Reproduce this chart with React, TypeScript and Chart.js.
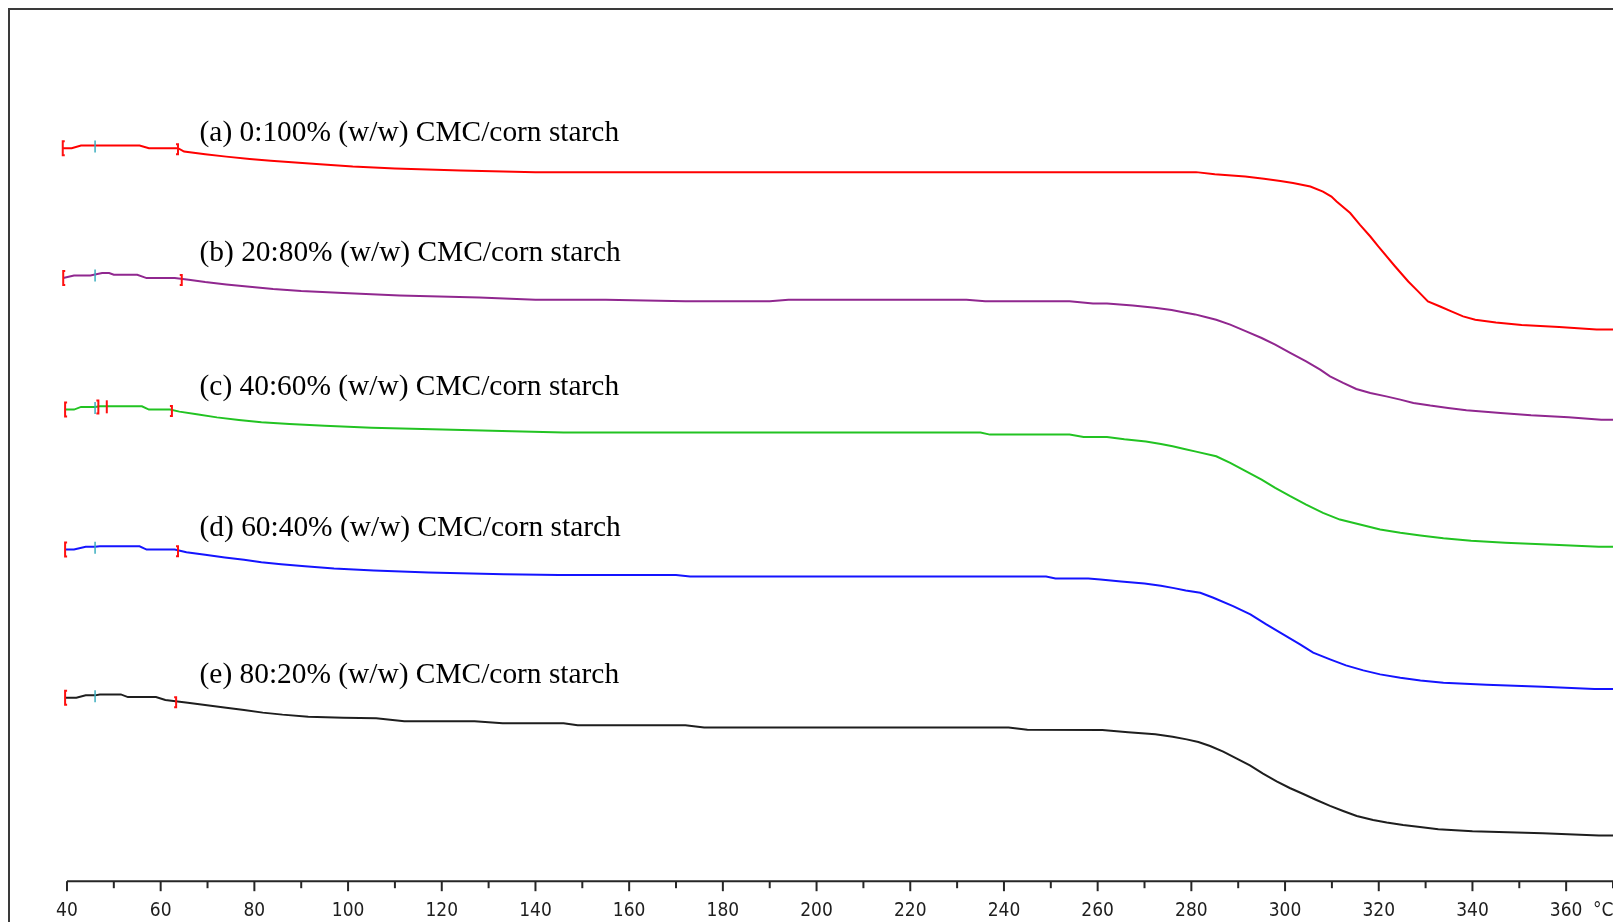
import { useEffect, useRef } from 'react';
import { Chart, registerables } from 'chart.js';

Chart.register(...registerables);

// TGA traces of CMC/corn starch films, stacked with a vertical offset (relative signal units).
const TEMP_A = [39.1, 41, 43, 55.5, 57.5, 63.7, 65, 69.5, 74, 79, 83.5, 88, 94, 101, 110, 124, 140, 200, 281, 285, 291.5, 295.5, 299, 301.7, 305.4, 308.1, 309.9, 311, 313.9, 316, 318.2, 319.9, 323.5, 326.3, 328.4, 330.5, 333.1, 335.5, 338, 340.6, 345, 350.5, 358.5, 366.5, 370];
const SIG_A = [84.14, 84.14, 84.44, 84.44, 84.14, 84.14, 83.75, 83.45, 83.17, 82.91, 82.71, 82.53, 82.3, 82.03, 81.8, 81.57, 81.39, 81.39, 81.39, 81.16, 80.88, 80.62, 80.36, 80.13, 79.74, 79.16, 78.59, 78.02, 76.69, 75.34, 74.0, 72.86, 70.56, 68.84, 67.7, 66.55, 65.97, 65.4, 64.83, 64.45, 64.14, 63.84, 63.61, 63.34, 63.34];

const TEMP_B = [39.2, 41.5, 45, 47.5, 49, 50, 55, 57, 63, 66, 69.5, 74, 79, 84, 90, 99, 111, 128, 140, 155, 172, 190, 194, 232, 236, 254, 259, 262, 267.5, 272.2, 275.8, 278.5, 280.8, 283, 285.3, 288.3, 291.7, 295, 297.9, 301.1, 304.5, 307.5, 309.6, 312.4, 315.2, 318.2, 321.6, 324.6, 327.4, 331, 334.8, 338.7, 346, 352.5, 360.5, 367.5, 370];
const SIG_B = [69.23, 69.53, 69.53, 69.81, 69.81, 69.61, 69.61, 69.23, 69.23, 69.04, 68.77, 68.5, 68.23, 67.97, 67.74, 67.51, 67.24, 67.01, 66.74, 66.74, 66.58, 66.58, 66.74, 66.74, 66.58, 66.58, 66.32, 66.32, 66.09, 65.83, 65.56, 65.29, 65.06, 64.76, 64.45, 63.88, 63.11, 62.35, 61.58, 60.63, 59.67, 58.72, 57.95, 57.19, 56.5, 56.04, 55.65, 55.28, 54.9, 54.59, 54.32, 54.05, 53.75, 53.47, 53.24, 52.98, 52.98];

const TEMP_C = [39.6, 41.5, 43, 46, 47, 56, 57.5, 62, 64, 67.7, 72, 76.7, 81.5, 87.5, 95, 105, 118, 135, 146, 235, 237, 254, 257, 262, 265.7, 270.3, 273.5, 276, 278.5, 281, 285.3, 288.3, 291.7, 295, 297.9, 301.1, 304.5, 308.1, 311.7, 316, 320.3, 324.6, 328.9, 333.8, 339.7, 347, 357.3, 367, 370];
const SIG_C = [54.13, 54.13, 54.44, 54.44, 54.51, 54.51, 54.13, 54.13, 53.9, 53.59, 53.24, 52.95, 52.67, 52.49, 52.29, 52.06, 51.87, 51.64, 51.49, 51.49, 51.26, 51.26, 51.0, 51.0, 50.72, 50.46, 50.19, 49.92, 49.62, 49.31, 48.77, 48.02, 47.05, 46.1, 45.15, 44.19, 43.23, 42.28, 41.51, 40.94, 40.37, 39.99, 39.68, 39.37, 39.07, 38.84, 38.61, 38.38, 38.38];

const TEMP_D = [39.6, 41.5, 44, 46, 47, 55.5, 57, 63, 65.5, 69.5, 73.7, 77.8, 81.5, 85.7, 90.8, 97, 105.5, 117.2, 133.2, 145, 170, 173, 249, 251, 258, 260.6, 265, 270, 273.5, 276.3, 278.8, 281.9, 284.7, 288.9, 292.6, 296, 299.6, 303.2, 306, 309.6, 313, 316.7, 320.3, 324.6, 328.9, 333.8, 343, 355, 366, 370];
const SIG_D = [38.07, 38.07, 38.38, 38.38, 38.45, 38.45, 38.07, 38.07, 37.76, 37.47, 37.16, 36.89, 36.62, 36.39, 36.16, 35.89, 35.67, 35.44, 35.24, 35.15, 35.15, 34.97, 34.97, 34.75, 34.75, 34.63, 34.4, 34.17, 33.91, 33.64, 33.37, 33.11, 32.53, 31.57, 30.62, 29.47, 28.33, 27.18, 26.23, 25.46, 24.77, 24.2, 23.74, 23.36, 23.05, 22.79, 22.56, 22.33, 22.05, 22.05];

const TEMP_E = [39.6, 42, 44, 46, 47, 51.5, 53, 59, 61, 65.8, 70.3, 74, 77.8, 81.8, 86, 91.5, 99, 106, 112, 127, 133, 146, 149, 172, 176, 241, 245, 261, 266.5, 272.3, 276, 279, 281.5, 284, 286.8, 289.6, 292.5, 295.3, 298.2, 301, 303.9, 306.7, 309.6, 312.4, 315.3, 318.8, 321.7, 325.2, 328.8, 332.7, 340, 355, 367, 370];
const SIG_E = [21.07, 21.07, 21.33, 21.33, 21.44, 21.44, 21.13, 21.13, 20.79, 20.49, 20.18, 19.92, 19.64, 19.35, 19.12, 18.89, 18.77, 18.69, 18.35, 18.35, 18.12, 18.12, 17.89, 17.89, 17.63, 17.63, 17.39, 17.35, 17.09, 16.86, 16.59, 16.28, 15.97, 15.52, 14.87, 14.11, 13.3, 12.35, 11.47, 10.7, 10.01, 9.32, 8.64, 8.06, 7.49, 7.03, 6.73, 6.46, 6.23, 5.96, 5.73, 5.5, 5.24, 5.24];

const SERIES_TEMPS = [TEMP_A, TEMP_B, TEMP_C, TEMP_D, TEMP_E];
const SERIES_SIGNALS = [SIG_A, SIG_B, SIG_C, SIG_D, SIG_E];
const SERIES_LABELS = [
  '(a) 0:100% (w/w) CMC/corn starch',
  '(b) 20:80% (w/w) CMC/corn starch',
  '(c) 40:60% (w/w) CMC/corn starch',
  '(d) 60:40% (w/w) CMC/corn starch',
  '(e) 80:20% (w/w) CMC/corn starch',
];
const SERIES_COLORS = ['#ff0000', '#90278f', '#22c322', '#1414ff', '#1e1e1e'];

// Where each caption sits (temperature, signal of its baseline).
const CAPTION_TEMP = 68.3;
const CAPTION_SIGNAL = [85.0, 71.14, 55.85, 39.6, 22.79];

// Evaluation markers along each trace.
const MARK_CENTER = [46, 46, 46, 46, 46];
const MARK_END = [63.7, 64.5, 62.4, 63.7, 63.3];
const MARK_EXTRA_C = [46.7, 48.5];

// Temperature axis
const X_MIN = 38;
const X_MAX = 370;
const AXIS_START = 40;
const UNIT_TEMP = 367.9;

const TICK_FONT = '"Liberation Sans Narrow", "DejaVu Sans Condensed", "Arial Narrow", sans-serif';
const CAPTION_FONT = '29.4px "Liberation Serif", "Times New Roman", serif';

function signalAt(temps: number[], vals: number[], t: number): number {
  for (let i = 1; i < temps.length; i++) {
    if (t <= temps[i]) {
      const f = (t - temps[i - 1]) / (temps[i] - temps[i - 1]);
      return vals[i - 1] + f * (vals[i] - vals[i - 1]);
    }
  }
  return vals[vals.length - 1];
}

const overlayPlugin = {
  id: 'tgaOverlay',
  afterDatasetsDraw(chart: any) {
    const { ctx, chartArea, scales } = chart;
    const xs = scales.x;
    const ys = scales.y;
    ctx.save();

    // temperature axis line and ticks
    const yb = chartArea.bottom;
    ctx.strokeStyle = '#262626';
    ctx.lineWidth = 2;
    ctx.beginPath();
    ctx.moveTo(xs.getPixelForValue(AXIS_START), yb);
    ctx.lineTo(chart.width, yb);
    ctx.stroke();
    xs.ticks.forEach((t: any) => {
      if (t.value < AXIS_START || t.value % 10 !== 0) return;
      const px = xs.getPixelForValue(t.value);
      const len = t.value % 20 === 0 ? 10 : 7;
      ctx.beginPath();
      ctx.moveTo(px, yb);
      ctx.lineTo(px, yb + len);
      ctx.stroke();
    });

    // markers on each trace
    const drawBracket = (px: number, py: number, dir: number, up: number, down: number, color: string) => {
      ctx.strokeStyle = color;
      ctx.lineWidth = 2;
      ctx.beginPath();
      ctx.moveTo(px + dir * 2, py - up);
      ctx.lineTo(px, py - up);
      ctx.lineTo(px, py + down);
      ctx.lineTo(px + dir * 2, py + down);
      ctx.stroke();
    };
    SERIES_TEMPS.forEach((temps, i) => {
      const vals = SERIES_SIGNALS[i];
      const sx = xs.getPixelForValue(temps[0]);
      const sy = ys.getPixelForValue(vals[0]);
      drawBracket(sx, sy, 1, 7, 7, '#ff1010');

      const cx = xs.getPixelForValue(MARK_CENTER[i]);
      const cy = ys.getPixelForValue(signalAt(temps, vals, MARK_CENTER[i]));
      ctx.strokeStyle = '#3aaebf';
      ctx.lineWidth = 1.5;
      ctx.beginPath();
      ctx.moveTo(cx, cy - 5);
      ctx.lineTo(cx, cy + 7);
      ctx.stroke();

      if (i === 2) {
        MARK_EXTRA_C.forEach((t, k) => {
          const ex = xs.getPixelForValue(t);
          const ey = ys.getPixelForValue(signalAt(temps, vals, t));
          drawBracket(ex, ey, k === 0 ? -1 : 0, 6, 7, '#ff1010');
        });
      }

      const ex = xs.getPixelForValue(MARK_END[i]);
      const ey = ys.getPixelForValue(signalAt(temps, vals, MARK_END[i]));
      drawBracket(ex, ey, -1, 4, 6, '#ff1010');
    });

    // captions
    ctx.fillStyle = '#000';
    ctx.font = CAPTION_FONT;
    ctx.textAlign = 'left';
    ctx.textBaseline = 'alphabetic';
    SERIES_LABELS.forEach((label, i) => {
      ctx.fillText(label, xs.getPixelForValue(CAPTION_TEMP), ys.getPixelForValue(CAPTION_SIGNAL[i]));
    });
    ctx.restore();
  },
};

export default function App() {
  const canvasRef = useRef<HTMLCanvasElement | null>(null);

  useEffect(() => {
    const canvas = canvasRef.current;
    if (!canvas) return;
    const datasets = SERIES_TEMPS.map((temps, i) => ({
      label: SERIES_LABELS[i],
      data: temps.map((t, k) => ({ x: t, y: SERIES_SIGNALS[i][k] })),
      borderColor: SERIES_COLORS[i],
      backgroundColor: SERIES_COLORS[i],
      borderWidth: 2,
      pointRadius: 0,
      tension: 0,
      fill: false,
    }));

    const chart = new Chart(canvas, {
      type: 'line',
      data: { datasets },
      plugins: [overlayPlugin],
      options: {
        animation: false,
        responsive: false,
        devicePixelRatio: 1,
        events: [],
        layout: { padding: { left: 47.6, right: 0, top: 0, bottom: 0 } },
        plugins: { legend: { display: false }, tooltip: { enabled: false } },
        scales: {
          x: {
            type: 'linear',
            min: X_MIN,
            max: X_MAX,
            grid: { display: true, drawOnChartArea: false, drawTicks: true, tickLength: 10, color: 'rgba(0,0,0,0)' },
            border: { display: false },
            afterBuildTicks: (scale: any) => {
              const kept = scale.ticks.filter((t: any) => t.value <= X_MAX);
              kept.push({ value: UNIT_TEMP });
              scale.ticks = kept.sort((a: any, b: any) => a.value - b.value);
            },
            afterFit: (scale: any) => {
              // the axis runs right up to the edge of the frame
              scale.paddingLeft = 0;
              scale.paddingRight = 0;
            },
            ticks: {
              stepSize: 10,
              includeBounds: false,
              autoSkip: false,
              maxRotation: 0,
              padding: 8,
              color: '#1e1e1e',
              font: { family: TICK_FONT, size: 19 },
              callback: (value: any) => {
                const v = Number(value);
                if (Math.abs(v - UNIT_TEMP) < 1e-6) return '°C';
                return v % 20 === 0 && v < X_MAX ? String(v) : '';
              },
            },
          },
          y: { type: 'linear', display: false, min: 0, max: 100 },
        },
      },
    });
    return () => chart.destroy();
  }, []);

  return (
    <div
      style={{
        position: 'fixed',
        left: 8,
        top: 8,
        width: 1700,
        height: 1000,
        borderLeft: '2px solid #3a3a3a',
        borderTop: '2px solid #3a3a3a',
        background: '#fff',
      }}
    >
      <canvas ref={canvasRef} width={1603} height={920} style={{ display: 'block', width: 1603, height: 920 }} />
    </div>
  );
}
